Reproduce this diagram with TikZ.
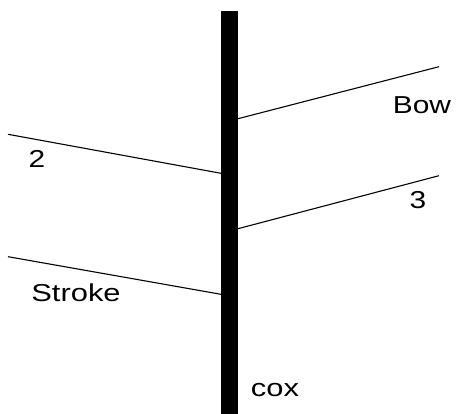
\documentclass[tikz,border=0pt]{standalone}
\usepackage{fontspec}
\setmainfont{Liberation Sans}
\begin{document}
\begin{tikzpicture}[x=1pt,y=-1pt,
  lbl/.style={inner sep=0pt, anchor=base, font=\fontsize{24.5}{28}\selectfont},
  branch/.style={line width=1.1pt, draw=black},
  polebar/.style={fill=black, inner sep=0pt, minimum width=17pt, minimum height=403pt}]
\useasboundingbox (0,0) rectangle (459,414);
\node[polebar] (pole) at (229.5,212.5) {};
% branch end points
\coordinate (bowIn) at (238,118.7);
\coordinate (bowOut) at (439,66.7);
\coordinate (thrIn) at (238,228.7);
\coordinate (thrOut) at (439,175.7);
\coordinate (twoOut) at (8,134.3);
\coordinate (twoIn) at (221,173.3);
\coordinate (strOut) at (8,256.7);
\coordinate (strIn) at (221,294.3);
\draw[branch] (bowIn) -- (bowOut);
\draw[branch] (thrIn) -- (thrOut);
\draw[branch] (twoOut) -- (twoIn);
\draw[branch] (strOut) -- (strIn);
% labels
\node[lbl] (bow) at (422,113.3) {\scalebox{1.22}[1]{Bow}};
\node[lbl] (three) at (418,208.3) {\scalebox{1.22}[1]{3}};
\node[lbl] (two) at (37,167.5) {\scalebox{1.22}[1]{2}};
\node[lbl] (stroke) at (76,301.5) {\scalebox{1.26}[1]{Stroke}};
\node[lbl] (cox) at (275,396.7) {\scalebox{1.26}[1]{cox}};
\end{tikzpicture}
\end{document}
